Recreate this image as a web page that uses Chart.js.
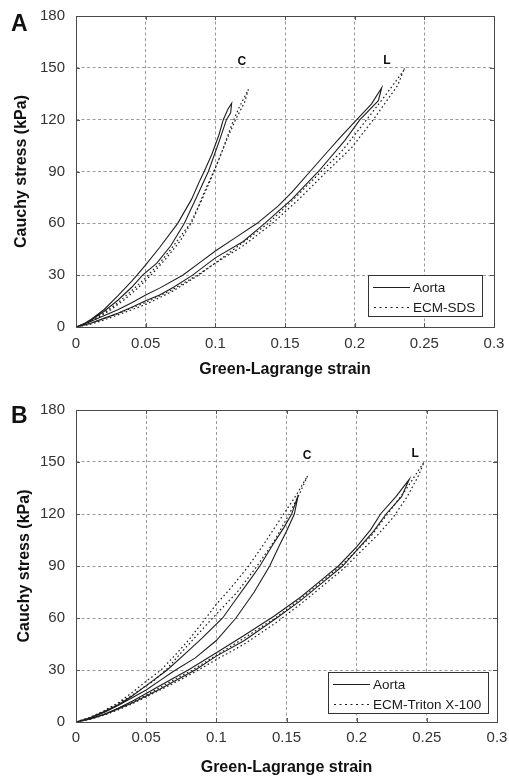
<!DOCTYPE html>
<html><head><meta charset="utf-8">
<script src="https://cdn.jsdelivr.net/npm/chart.js@4.4.0/dist/chart.umd.min.js"></script>
<style>
html,body{margin:0;padding:0;background:#fff;}
#wrap{position:relative;width:509px;height:781px;background:#fff;}
canvas{position:absolute;left:0;}
#cA{top:0;} #cB{top:390px;}
</style></head><body>
<div id="wrap"><canvas id="cA" width="509" height="390"></canvas><canvas id="cB" width="509" height="391"></canvas></div>
<script>
// ---------- tick values / labels ----------
const xTicks = [0, 0.05, 0.1, 0.15, 0.2, 0.25, 0.3];
const xTickLabels = ['0', '0.05', '0.1', '0.15', '0.2', '0.25', '0.3'];
const yTicks = [0, 30, 60, 90, 120, 150, 180];
const yTickLabels = ['0', '30', '60', '90', '120', '150', '180'];
const xTitle = 'Green-Lagrange strain';
const yTitle = 'Cauchy stress (kPa)';
const seriesNames = ['Aorta'];
const ecmNameA = 'ECM-SDS';
const ecmNameB = 'ECM-Triton X-100';

// ---------- Panel A (each curve is a loading/unloading loop) ----------
const A_aortaC_strain = [0,0.005,0.01,0.02,0.03,0.04,0.0438,0.05,0.06,0.073,0.083,0.089,0.092,0.0975,0.1025,0.1057,0.109,0.1117,0.111,0.108,0.103,0.095,0.087,0.0778,0.068,0.058,0.0478,0.04,0.03,0.02,0.01,0];
const A_aortaC_stress = [0,1.5,4,10,18,26.5,30,36,46,60,74,85,90,100,111,120,126,129.5,124,120,108,90,76,60,47,37,30,23,15.5,9,3.5,0];
const A_ecmC_strain = [0,0.01,0.02,0.03,0.04,0.05,0.06,0.07,0.082,0.09,0.098,0.105,0.1117,0.117,0.1237,0.121,0.1145,0.108,0.1,0.092,0.084,0.075,0.065,0.055,0.045,0.035,0.025,0.015,0.005,0];
const A_ecmC_stress = [0,3,8,14,21,28.5,37,47,60,73,88,102,117,127,137.5,130,120,108,92,78,62,50,40,31,23,16,10,5,1.2,0];
const A_aortaL_strain = [0,0.01,0.02,0.03,0.04,0.05,0.06,0.0766,0.09,0.1,0.115,0.13,0.145,0.155,0.168,0.18,0.19,0.2015,0.212,0.2194,0.217,0.2038,0.193,0.174,0.155,0.1355,0.12,0.1,0.0837,0.07,0.06,0.05,0.04,0.03,0.02,0.01,0];
const A_aortaL_stress = [0,3,6.5,10,14,18.5,22.5,30,38,44,52,60,70,78,90,101,110,120,129,138.5,131,120,108,90,74,60,49.5,40,30,23,18.5,15.2,11.5,8,5,2,0];
const A_ecmL_strain = [0,0.01,0.02,0.03,0.04,0.05,0.06,0.07,0.087,0.1,0.12,0.138,0.155,0.176,0.19,0.2086,0.222,0.235,0.231,0.2134,0.198,0.1775,0.16,0.141,0.12,0.1,0.088,0.07,0.05,0.04,0.03,0.02,0.01,0];
const A_ecmL_stress = [0,2,4.8,7.8,11,14.2,18,22,30,37,49,60,73,90,101,120,134,148.3,140,120,104,88,74,60,47,37,30,21,13,10,7,4,1.5,0];

// ---------- Panel B ----------
const B_aortaC_strain = [0,0.01,0.02,0.03,0.04,0.05,0.065,0.08,0.09,0.1045,0.115,0.124,0.131,0.14,0.148,0.1537,0.1584,0.1556,0.15,0.145,0.138,0.127,0.114,0.1,0.085,0.069,0.06,0.05,0.04,0.03,0.02,0.01,0];
const B_aortaC_stress = [0,2.5,6,10,15,21,30,41,48.5,60,72,82,90,102,112,120,131,120,110,102,90,75,60,47,37,29,24,18.5,14,9.5,5.5,2.2,0];
const B_ecmC_strain = [0,0.01,0.02,0.03,0.04,0.05,0.0606,0.07,0.08,0.0926,0.1,0.11,0.123,0.135,0.148,0.157,0.165,0.16,0.152,0.141,0.129,0.115,0.0974,0.085,0.075,0.064,0.055,0.05,0.04,0.03,0.02,0.01,0];
const B_ecmC_stress = [0,2.7,6.5,11,17,23.5,30,38,47,60,68,77,90,104,120,131,142,133,120,104,90,75,60,49,40,30,23.5,21,15.5,10.5,6,2.5,0];
const B_aortaL_strain = [0,0.01,0.02,0.03,0.04,0.05,0.06,0.07,0.08,0.1,0.12,0.141,0.16,0.175,0.187,0.2,0.21,0.217,0.228,0.2375,0.232,0.221,0.212,0.2,0.19,0.175,0.16,0.143,0.12,0.1,0.085,0.07,0.06,0.05,0.04,0.03,0.02,0.01,0];
const B_aortaL_stress = [0,2,4.5,8,12,16.5,21,25.5,30,40,50,61,72,82,90,101,111,120,130,140,130,120,110,99,90,80,70,60,47,38,30,23.5,19,15,11,7.5,4.2,1.8,0];
const B_ecmL_strain = [0,0.01,0.02,0.03,0.04,0.05,0.06,0.07,0.083,0.1,0.12,0.142,0.16,0.175,0.19,0.2,0.21,0.222,0.235,0.248,0.244,0.236,0.226,0.215,0.2,0.19,0.175,0.16,0.142,0.12,0.1,0.085,0.07,0.06,0.05,0.04,0.03,0.02,0.01,0];
const B_ecmL_stress = [0,1.8,4.3,7.8,11.5,15.5,20,24.5,30,38.5,48.5,60,71,81,91,99,107,120,134,150,142,130,118,108,96,88,78,68,57,45,36,29,22.5,18.5,14.5,10.5,7,4,1.5,0];

// curve labels (data coordinates)
const A_labels = [{text:'C', x:0.119, y:153.5}, {text:'L', x:0.2232, y:154}];
const B_labels = [{text:'C', x:0.1646, y:153.5}, {text:'L', x:0.2416, y:155}];

const FONT = '"Liberation Sans", Arial, Helvetica, sans-serif';
const LINE = '#1e1e1e';

function pts(xs, ys){ return xs.map((v,i)=>({x:v, y:ys[i]})); }
function solid(xs, ys){ return {data:pts(xs,ys), showLine:true, pointRadius:0, borderColor:LINE, borderWidth:1.1, fill:false, tension:0}; }
function dotted(xs, ys){ return {data:pts(xs,ys), showLine:true, pointRadius:0, borderColor:LINE, borderWidth:1.2, borderDash:[1.6,2.6], fill:false, tension:0}; }

const annot = {
  id:'annot',
  beforeDraw(chart){
    const ctx = chart.ctx;
    ctx.save(); ctx.fillStyle='#fff'; ctx.fillRect(0,0,chart.width,chart.height); ctx.restore();
  },
  afterDatasetsDraw(chart, args, o){
    const {ctx, chartArea:a, scales:{x, y}} = chart;
    ctx.save();
    ctx.setLineDash([]);
    // inner tick marks
    ctx.strokeStyle = '#555'; ctx.lineWidth = 1;
    ctx.beginPath();
    xTicks.forEach(v=>{ const px = Math.round(x.getPixelForValue(v))+0.5; ctx.moveTo(px,a.bottom); ctx.lineTo(px,a.bottom-4); ctx.moveTo(px,a.top); ctx.lineTo(px,a.top+4); });
    yTicks.forEach(v=>{ const py = Math.round(y.getPixelForValue(v))+0.5; ctx.moveTo(a.left,py); ctx.lineTo(a.left+4,py); ctx.moveTo(a.right,py); ctx.lineTo(a.right-4,py); });
    ctx.stroke();
    // frame
    ctx.strokeStyle = '#4a4a4a';
    ctx.strokeRect(Math.round(a.left)+0.5, Math.round(a.top)+0.5, Math.round(a.right-a.left), Math.round(a.bottom-a.top));
    // curve labels
    ctx.fillStyle = '#111';
    ctx.font = 'bold 12px ' + FONT;
    ctx.textAlign = 'center'; ctx.textBaseline = 'middle';
    o.labels.forEach(l=> ctx.fillText(l.text, x.getPixelForValue(l.x), y.getPixelForValue(l.y)));
    // legend
    ctx.font = '13.5px ' + FONT;
    const names = o.names;
    const tw = Math.max(...names.map(n=>ctx.measureText(n).width));
    const w = Math.round(5 + 37 + 3 + tw + 7), h = 41;
    const bx = Math.round(a.right - o.legendRight - w), by = Math.round(a.bottom - o.legendBottom - h);
    ctx.fillStyle = '#fff'; ctx.fillRect(bx, by, w, h);
    ctx.strokeStyle = '#333'; ctx.lineWidth = 1;
    ctx.strokeRect(bx+0.5, by+0.5, w, h);
    const r1 = by + 12, r2 = by + 32;
    ctx.strokeStyle = LINE; ctx.lineWidth = 1.1;
    ctx.beginPath(); ctx.moveTo(bx+5, r1+0.5); ctx.lineTo(bx+42, r1+0.5); ctx.stroke();
    ctx.setLineDash([2,3.5]); ctx.lineWidth = 1.2;
    ctx.beginPath(); ctx.moveTo(bx+6, r2+0.5); ctx.lineTo(bx+42, r2+0.5); ctx.stroke();
    ctx.setLineDash([]);
    ctx.fillStyle = '#1a1a1a'; ctx.textAlign = 'left'; ctx.textBaseline = 'middle';
    ctx.fillText(names[0], bx+45, r1+1);
    ctx.fillText(names[1], bx+45, r2+1);
    // panel letter
    ctx.font = 'bold 23px ' + FONT; ctx.fillStyle = '#111';
    ctx.textAlign = 'left'; ctx.textBaseline = 'alphabetic';
    ctx.fillText(o.letter, 11, o.letterY);
    ctx.restore();
  }
};

function makeChart(id, datasets, cfg){
  return new Chart(document.getElementById(id), {
    type:'scatter',
    data:{datasets},
    plugins:[annot],
    options:{
      responsive:false, animation:false, devicePixelRatio:1,
      layout:{padding:{top:cfg.padTop, right:cfg.padRight, left:0, bottom:0}},
      plugins:{legend:{display:false}, tooltip:{enabled:false},
        annot:{labels:cfg.labels, names:cfg.names, legendRight:cfg.legendRight, legendBottom:cfg.legendBottom, letter:cfg.letter, letterY:cfg.letterY}},
      scales:{
        x:{type:'linear', min:0, max:0.3,
          afterBuildTicks:(s)=>{ s.ticks = xTicks.map(v=>({value:v})); },
          afterFit:(s)=>{ s.height = cfg.xHeight; s.paddingLeft = 0; s.paddingRight = 0; },
          ticks:{callback:(v,i)=>xTickLabels[i], color:'#333', font:{family:FONT, size:15}, padding:cfg.xTickPad, maxRotation:0, autoSkip:false},
          grid:{color:'#9a9a9a', lineWidth:1, drawTicks:false},
          border:{display:false, dash:[3,2.5]},
          title:{display:true, text:xTitle, color:'#111', font:{family:FONT, size:16, weight:'bold'}, padding:{top:0, bottom:cfg.xTitlePad}}
        },
        y:{type:'linear', min:0, max:180,
          afterBuildTicks:(s)=>{ s.ticks = yTicks.map(v=>({value:v})); },
          afterFit:(s)=>{ s.width = 76; s.paddingTop = 0; s.paddingBottom = 0; },
          ticks:{callback:(v,i)=>yTickLabels[i], color:'#333', font:{family:FONT, size:15}, padding:11, autoSkip:false},
          grid:{color:'#9a9a9a', lineWidth:1, drawTicks:false},
          border:{display:false, dash:[3,2.5]},
          title:{display:true, text:yTitle, color:'#111', font:{family:FONT, size:16, weight:'bold'}, padding:{top:cfg.yTitlePad, bottom:0}}
        }
      }
    }
  });
}

makeChart('cA', [
  solid(A_aortaC_strain, A_aortaC_stress),
  solid(A_aortaL_strain, A_aortaL_stress),
  dotted(A_ecmC_strain, A_ecmC_stress),
  dotted(A_ecmL_strain, A_ecmL_stress)
], {padTop:16, padRight:15, xHeight:63, xTickPad:8, xTitlePad:11, yTitlePad:12,
    labels:A_labels, names:[seriesNames[0], ecmNameA], legendRight:12, legendBottom:11, letter:'A', letterY:31});

makeChart('cB', [
  solid(B_aortaC_strain, B_aortaC_stress),
  solid(B_aortaL_strain, B_aortaL_stress),
  dotted(B_ecmC_strain, B_ecmC_stress),
  dotted(B_ecmL_strain, B_ecmL_stress)
], {padTop:20, padRight:12, xHeight:59, xTickPad:7, xTitlePad:3.5, yTitlePad:15,
    labels:B_labels, names:[seriesNames[0], ecmNameB], legendRight:9, legendBottom:9, letter:'B', letterY:33});
</script>
</body></html>
